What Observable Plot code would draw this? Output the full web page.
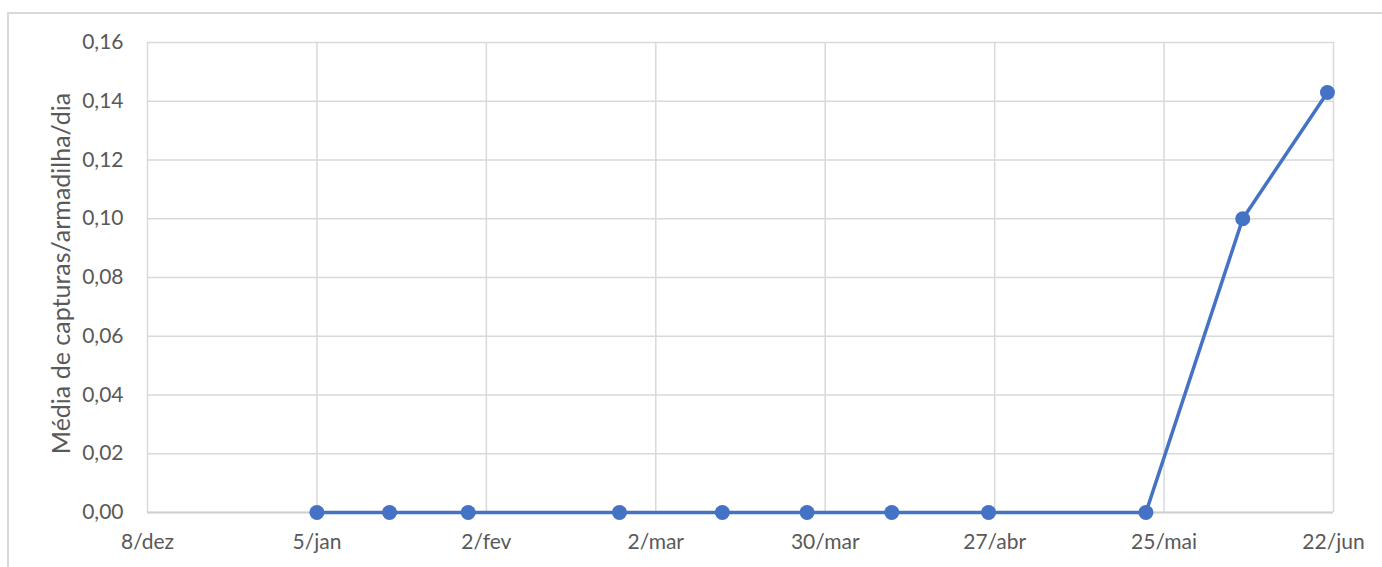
<!DOCTYPE html>
<html>
<head>
<meta charset="utf-8">
<script src="https://cdn.jsdelivr.net/npm/d3@7"></script>
<script src="https://cdn.jsdelivr.net/npm/@observablehq/plot@0.6"></script>
<style>
  html, body { margin: 0; padding: 0; background: #fff; }
  #wrap { position: relative; width: 1382px; height: 567px; }
  #frame { position: absolute; left: 7px; top: 12px; width: 1373px; height: 600px;
           border-left: 2px solid #d9d9d9; border-top: 2px solid #d9d9d9; pointer-events: none; }
</style>
</head>
<body>
<div id="wrap"><div id="frame"></div></div>
<script>
// Sampling dates and mean captures per trap per day
const dates = ["2019-01-05","2019-01-17","2019-01-30","2019-02-24","2019-03-13","2019-03-27",
               "2019-04-10","2019-04-26","2019-05-22","2019-06-07","2019-06-21"];
const values = [0, 0, 0, 0, 0, 0, 0, 0, 0, 0.10, 0.143];
const xTicks = ["2018-12-08","2019-01-05","2019-02-02","2019-03-02","2019-03-30","2019-04-27","2019-05-25","2019-06-22"];
const xTickLabels = ["8/dez","5/jan","2/fev","2/mar","30/mar","27/abr","25/mai","22/jun"];
const yTicks = [0, 0.02, 0.04, 0.06, 0.08, 0.10, 0.12, 0.14, 0.16];
const yTitle = "Média de capturas/armadilha/dia";

const parse = d3.utcParse("%Y-%m-%d");
const data = dates.map((d, i) => ({date: parse(d), value: values[i]}));
const xt = xTicks.map(parse);
const labelOf = new Map(xt.map((d, i) => [+d, xTickLabels[i]]));

const font = "Lato, 'Open Sans', sans-serif";
const chart = Plot.plot({
  width: 1382,
  height: 567,
  marginLeft: 147,
  marginRight: 49,
  marginTop: 42,
  marginBottom: 55,
  style: {fontFamily: font, fontSize: "21px", color: "#595959", background: "transparent"},
  x: {type: "utc", domain: [xt[0], xt[xt.length - 1]], label: null},
  y: {domain: [0, 0.16], label: null},
  marks: [
    Plot.gridX(xt, {stroke: "#d9d9d9", strokeOpacity: 1, strokeWidth: 1.5}),
    Plot.gridY(yTicks, {stroke: "#d9d9d9", strokeOpacity: 1, strokeWidth: 1.5}),
    Plot.ruleY([0], {stroke: "#d0d0d0", strokeWidth: 2}),
    Plot.axisX({ticks: xt, tickFormat: d => labelOf.get(+d), tickSize: 0, tickPadding: 22, fill: "#595959", fontSize: 21, label: null}),
    Plot.axisY({ticks: yTicks, tickFormat: d => d.toFixed(2).replace(".", ","), tickSize: 0, tickPadding: 24, fill: "#595959", fontSize: 21, label: null}),
    Plot.text([yTitle], {frameAnchor: "left", dx: -86, dy: -4, rotate: -90, textAnchor: "middle", fontSize: 25, fill: "#595959", text: d => d}),
    Plot.line(data, {x: "date", y: "value", stroke: "#4472C4", strokeWidth: 3.5}),
    Plot.dot(data, {x: "date", y: "value", r: 7.5, fill: "#4472C4", stroke: "none"})
  ]
});
document.getElementById("wrap").prepend(chart);
chart.style.position = "absolute";
chart.style.left = "0";
chart.style.top = "0";
</script>
</body>
</html>
